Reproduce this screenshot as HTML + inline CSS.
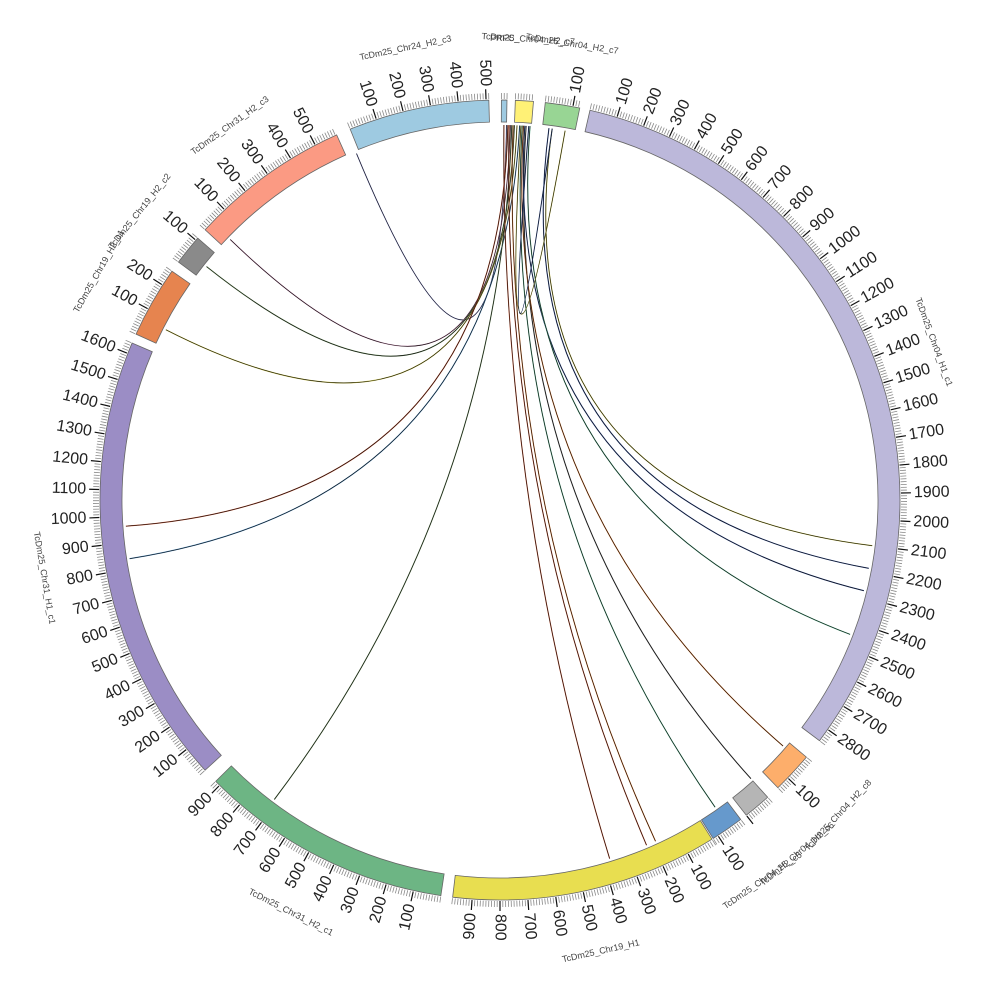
<!DOCTYPE html>
<html><head><meta charset="utf-8"><style>
html,body{margin:0;padding:0;background:#fff;}
svg{display:block;font-family:"Liberation Sans",sans-serif;}
</style></head><body>
<svg id="s" width="1000" height="1000" viewBox="0 0 1000 1000" xmlns="http://www.w3.org/2000/svg"></svg>
<script>
const S=document.getElementById('s');const NS='http://www.w3.org/2000/svg';
const cx=500,cy=500,R0=378,R1=400,K=0.04;
function P(r,a){const t=a*Math.PI/180;return [cx+r*Math.sin(t),cy-r*Math.cos(t)];}
function el(n,at,txt){const e=document.createElementNS(NS,n);for(const k in at)e.setAttribute(k,at[k]);if(txt!==undefined)e.textContent=txt;S.appendChild(e);return e;}
const segs=[
["PRFC_",0.2,20,"#9ecae1",0],
["TcDm25_Chr04_H2_c7",2.2,65,"#fff176",0],
["TcDm25_Chr04_H2_c7",6.5,125,"#98d594",1],
["TcDm25_Chr04_H1_c1",13,2850,"#bcb8da",1],
["TcDm25_Chr04_H2_c8",130,150,"#fdae6b",1],
["TcDm25_Chr04_H2_c6",138,100,"#b5b5b5",0],
["TcDm25_Chr04_H2_c5",143,120,"#6699cc",1],
["TcDm25_Chr19_H1",148,970,"#e8de50",1],
["TcDm25_Chr31_H2_c1",188.5,920,"#6db584",1],
["TcDm25_Chr31_H1_c1",227.5,1640,"#9b8dc5",1],
["TcDm25_Chr19_H2_c1",294.5,260,"#e6844f",1],
["TcDm25_Chr19_H2_c2",306.5,110,"#8a8a8a",1],
["TcDm25_Chr31_H2_c3",312.5,585,"#fb9a83",1],
["TcDm25_Chr24_H2_c3",338,510,"#9ecae1",1]];
const links=[[337.5,1.0,"#8a8fd0"],[314,1.6,"#c98ab0"],[308.5,2.2,"#6b8f5a"],[297,2.6,"#c8c040"],
[266,1.2,"#d0502a"],[261,3.0,"#4b8fc8"],[217,1.8,"#6b8f5a"],
[163,0.6,"#d0502a"],[157,1.4,"#d0502a"],[155.5,2.0,"#e07020"],[145,3.4,"#4baa80"],[138,4.0,"#555"],[131,3.6,"#e07020"],
[97,8.0,"#c8c040"],[100.5,7.5,"#3050a0"],[104,3.8,"#3050a0"],[111,4.6,"#4baa80"],[10,3.2,"#c8c040"],[8,4.4,"#3050a0"]];
for(const l of links){const a=P(R0-3,l[0]),b=P(R0-3,l[1]);const d=`M${a[0]},${a[1]} Q${cx},${cy} ${b[0]},${b[1]}`;
el('path',{d,fill:'none',stroke:l[2],'stroke-width':1.1});el('path',{d,fill:'none',stroke:'#111','stroke-width':0.6});}
for(const s of segs){const[name,a0,len,col,lab]=s;const a1=a0+len*K;
const p1=P(R1,a0),p2=P(R1,a1),p3=P(R0,a1),p4=P(R0,a0);const lg=(a1-a0)>180?1:0;
el('path',{d:`M${p1} A${R1},${R1} 0 ${lg} 1 ${p2} L${p3} A${R0},${R0} 0 ${lg} 0 ${p4}Z`,fill:col,stroke:'#666','stroke-width':0.8});
let d='';for(let u=0;u<=len;u+=10){const a=a0+u*K;const q=P(R1+1,a),w=P(R1+7,a);d+=`M${q}L${w}`;}
el('path',{d,stroke:'#888','stroke-width':0.8,fill:'none'});
let dm='';
for(let u=100;u<=len;u+=100){const a=a0+u*K;const q=P(R1+1,a),w=P(R1+11,a);dm+=`M${q}L${w}`;
 if(lab){const t=P(R1+14,a);let rot=a-90,anchor='start';if(a>180){rot=a+90;anchor='end';}
 el('text',{x:t[0],y:t[1],transform:`rotate(${rot} ${t[0]} ${t[1]})`,'font-size':16,fill:'#222','text-anchor':anchor,'dominant-baseline':'central'},u);}}
el('path',{d:dm,stroke:'#111','stroke-width':1.2,fill:'none'});
const am=(a0+a1)/2;const t=P(462,am);let rot=am;if(am>90&&am<270)rot=am-180;
el('text',{x:t[0],y:t[1],transform:`rotate(${rot} ${t[0]} ${t[1]})`,'font-size':9,fill:'#444','text-anchor':'middle','dominant-baseline':'central'},name);}
</script>
</body></html>
